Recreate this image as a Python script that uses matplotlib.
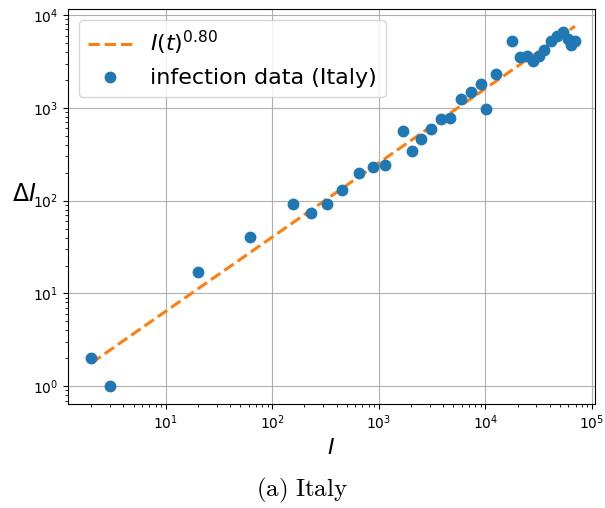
import numpy as np
import matplotlib
matplotlib.use("Agg")
import matplotlib.pyplot as plt

# cumulative infected I and new infections dI
infected = [2, 3, 20, 62, 155, 229, 322, 453, 655, 888, 1128, 1694, 2036, 2502,
            3089, 3858, 4636, 5883, 7375, 9172, 10149, 12462, 17660, 21157,
            24747, 27980, 31506, 35713, 41035, 47021, 53578, 59138, 63927, 69176]
new_cases = [2, 1, 17, 41, 93, 73, 93, 130, 200, 228, 241, 566, 342, 460,
             585, 757, 778, 1247, 1492, 1797, 977, 2348, 5198, 3497,
             3590, 3233, 3590, 4204, 5322, 5986, 6557, 5476, 4821, 5210]

exponent = 0.80
prefactor = 1.02

I = np.array(infected, dtype=float)
dI = np.array(new_cases, dtype=float)
fit = prefactor * I ** exponent

fig = plt.figure(figsize=(6.05, 5.08), dpi=100)
ax = fig.add_axes([0.112, 0.205, 0.871, 0.777])

ax.plot(I, fit, '--', color='tab:orange', lw=2.2, label=r'$I(t)^{0.80}$')
ax.plot(I, dI, 'o', color='tab:blue', ms=7.5, label='infection data (Italy)')

ax.set_xscale('log')
ax.set_yscale('log')
ax.set_xlim(1.2, 1.06e5)
ax.set_ylim(0.645, 11600)
ax.grid(True)

ax.set_xlabel(r'$I$', fontsize=16)
ax.set_ylabel(r'$\Delta I$', fontsize=17, rotation=0)
ax.yaxis.set_label_coords(-0.083, 0.502)
ax.legend(loc='upper left', fontsize=16)

fig.text(0.5, 0.022, r'$\mathrm{(a)\ Italy}$', ha='center', va='baseline',
         fontsize=18, math_fontfamily='cm')

plt.savefig('out.png', dpi=100)
